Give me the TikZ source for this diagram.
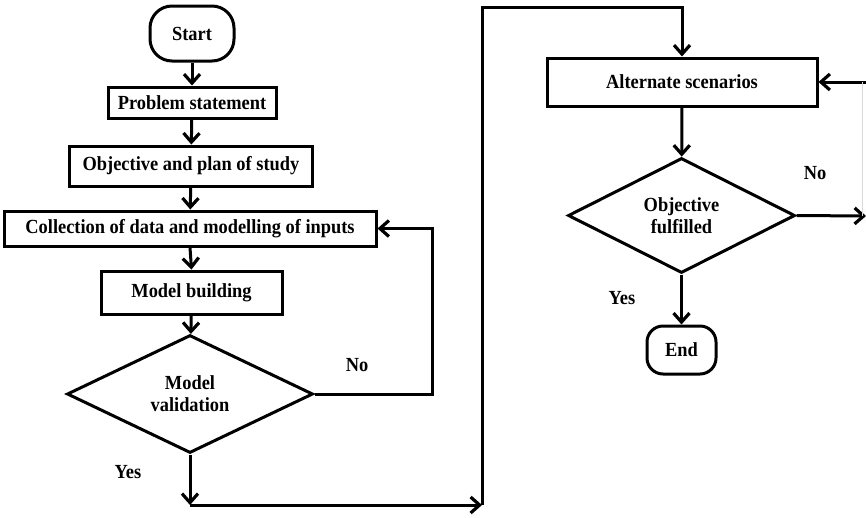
\documentclass[tikz,border=0pt]{standalone}
\usepackage{fontspec}
\setmainfont{Liberation Serif}[FakeStretch=0.92]
\usetikzlibrary{arrows.meta,shapes.geometric}
\begin{document}
\begin{tikzpicture}[x=1pt,y=-1pt,
  lw/.style={line width=3pt},
  txt/.style={font=\bfseries\fontsize{20}{22}\selectfont},
  proc/.style={draw,lw,txt,rectangle,inner sep=0pt,align=center},
  term/.style={proc,rounded corners=#1},
  dec/.style={draw,lw,txt,diamond,inner sep=0pt,align=center},
  arr/.style={lw,-{Straight Barb[length=9pt,width=16pt,line width=3.2pt]}},
  lbl/.style={txt,inner sep=0pt},
  faint/.style={draw=black!15,line width=0.6pt}]
\useasboundingbox (0,0) rectangle (866,517);
% left column
\node[term=22pt,minimum width=84pt,minimum height=55pt] (start) at (192,33.5) {Start};
\node[proc,minimum width=168pt,minimum height=31pt] (prob) at (192,102.5) {Problem statement};
\node[proc,minimum width=243pt,minimum height=40pt] (objp) at (191,166) {Objective and plan of study};
\node[proc,minimum width=372pt,minimum height=35pt] (coll) at (190,228.5) {Collection of data and modelling of inputs};
\node[proc,minimum width=181pt,minimum height=43pt] (build) at (191.5,292.5) {Model building};
\node[dec,minimum width=246pt,minimum height=118pt] (val) at (190,394) {Model\\validation};
% right column
\node[proc,minimum width=270pt,minimum height=48pt] (alt) at (682,82) {Alternate scenarios};
\node[dec,minimum width=227pt,minimum height=115pt] (objf) at (681.5,215.5) {Objective\\fulfilled};
\node[term=16pt,minimum width=69pt,minimum height=48pt] (end) at (681.5,350) {End};
% labels
\node[lbl] (no1) at (357,365) {No};
\node[lbl] (yes1) at (128,472) {Yes};
\node[lbl] (no2) at (815,173) {No};
\node[lbl] (yes2) at (622,298) {Yes};
% helper coordinates
\coordinate (c1) at (432,228.5);
\coordinate (y1) at (190,505);
\coordinate (y2) at (482,505);
\coordinate (y3) at (482,7);
\coordinate (rc1) at (866,216);
\coordinate (rc2) at (866,82);
\coordinate (rv1) at (862,216);
\coordinate (rv2) at (862,82);
% connectors
\draw[arr] (start) -- (prob);
\draw[arr] (prob) -- (objp);
\draw[arr] (objp) -- (coll);
\draw[arr] (coll.south) -- (build.north);
\draw[arr] (build) -- (val);
\draw[arr] (val.east) -| (c1) -- (coll.east);
\draw[arr] (val.south) -- (y1);
\draw[arr] (y1) -- (y2);
\draw[arr] (y2) -- (y3) -| (alt.north);
\draw[arr] (alt) -- (objf);
\draw[arr] (objf) -- (end);
\draw[arr] (objf.east) -- (rc1);
\draw[arr] (rc2) -- (alt.east);
\draw[faint] (rv1) -- (rv2);
\end{tikzpicture}
\end{document}
